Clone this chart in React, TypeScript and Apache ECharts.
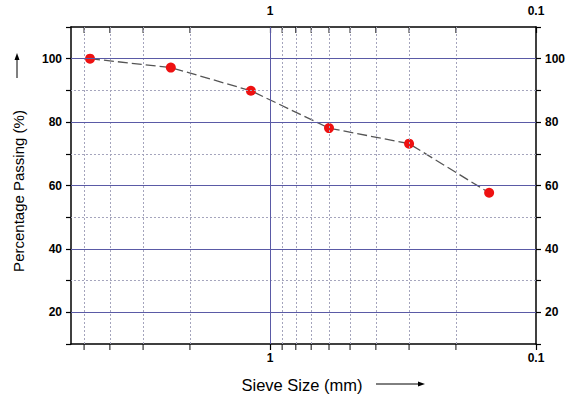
import React, { useEffect, useRef } from "react";
import * as echarts from "echarts";

const sieveSizes = [4.75, 2.36, 1.18, 0.6, 0.3, 0.15];
const percentPassing = [100, 97.2, 89.9, 78.1, 73.2, 57.7];
const yMajorGrid = [20, 40, 60, 80, 100];
const yMinorGrid = [30, 50, 70, 90];
const xMajorGrid = [1];
const xMinorGrid = [5, 4, 3, 2, 0.9, 0.8, 0.7, 0.6, 0.5, 0.4, 0.3, 0.2];
const xTickLabels = ["1", "0.1"];
const xTitle = "Sieve Size (mm)";
const yTitle = "Percentage Passing (%)";

const FONT = "Liberation Sans, Arial, sans-serif";

export default function App() {
  const ref = useRef<HTMLDivElement>(null);
  useEffect(() => {
    document.body.style.margin = "0";
    if (!ref.current) return;
    const chart = echarts.init(ref.current, null, { renderer: "svg" });

    const xFormatter = (v: number) => {
      for (const t of xTickLabels) {
        if (Math.abs(v - parseFloat(t)) < 1e-6) return t;
      }
      return "";
    };
    const yFormatter = (v: number) =>
      yMajorGrid.indexOf(v) >= 0 ? String(v) : "";

    const xAxisBase = (pos: "top" | "bottom") => ({
      type: "log",
      logBase: 10,
      min: 0.1,
      max: 5.6,
      inverse: true,
      position: pos,
      axisLine: { show: true, onZero: false, lineStyle: { color: "#000", width: 1.5 } },
      axisTick: { show: true, inside: pos === "top", length: 6, lineStyle: { color: "#000", width: 1.2 } },
      minorTick: { show: false },
      splitLine: { show: false },
      axisLabel: {
        formatter: xFormatter,
        showMaxLabel: false,
        color: "#000",
        fontWeight: "bold",
        fontSize: 12,
        fontFamily: FONT,
        margin: pos === "top" ? 10 : 8,
      },
    });

    const yAxisBase = (pos: "left" | "right") => ({
      type: "value",
      min: 10,
      max: 110,
      interval: 10,
      position: pos,
      axisLine: { show: true, lineStyle: { color: "#000", width: 1.5 } },
      axisTick: { show: true, length: 5, lineStyle: { color: "#000", width: 1.2 } },
      splitLine: { show: false },
      axisLabel: {
        formatter: yFormatter,
        color: "#000",
        fontWeight: "bold",
        fontSize: 12,
        fontFamily: FONT,
        margin: 9,
      },
    });

    const minorStyle = { type: [2, 2], color: "#a4a4bc", width: 1 };
    const majorStyle = { type: "solid", color: "#5a5aa6", width: 1.2 };

    const markData: any[] = [
      ...xMinorGrid.map((v) => ({ xAxis: v, lineStyle: minorStyle })),
      ...yMinorGrid.map((v) => ({ yAxis: v, lineStyle: minorStyle })),
      ...xMajorGrid.map((v) => ({ xAxis: v, lineStyle: { ...majorStyle, width: 1 } })),
      ...yMajorGrid.map((v) => ({ yAxis: v, lineStyle: majorStyle })),
    ];

    const tickData: number[][] = [];
    xMinorGrid.forEach((v) => {
      tickData.push([v, 110]);
      tickData.push([v, 10]);
    });

    chart.setOption({
      animation: false,
      backgroundColor: "#fff",
      grid: { left: 71, right: 32, top: 27, bottom: 52, containLabel: false },
      xAxis: [xAxisBase("bottom"), xAxisBase("top")],
      yAxis: [yAxisBase("left"), yAxisBase("right")],
      series: [
        {
          type: "scatter",
          xAxisIndex: 0,
          yAxisIndex: 0,
          data: tickData,
          symbol: "rect",
          symbolSize: [1.2, 6],
          symbolOffset: [0, 3],
          itemStyle: { color: "#000" },
          clip: false,
          silent: true,
          z: 1,
          markLine: {
            silent: true,
            symbol: "none",
            label: { show: false },
            data: markData,
          },
        },
        {
          type: "line",
          xAxisIndex: 0,
          yAxisIndex: 0,
          data: sieveSizes.map((s, i) => [s, percentPassing[i]]),
          symbol: "circle",
          symbolSize: 10,
          showSymbol: true,
          itemStyle: { color: "#ee1111" },
          lineStyle: { color: "#555", width: 1.3, type: [10, 4] },
          z: 3,
        },
      ],
      graphic: [
        {
          type: "text",
          x: 18,
          y: 191,
          rotation: Math.PI / 2,
          style: {
            text: yTitle,
            fill: "#000",
            font: `15px ${FONT}`,
            align: "center",
            verticalAlign: "middle",
          },
        },
        {
          type: "line",
          shape: { x1: 17, y1: 78, x2: 17, y2: 58 },
          style: { stroke: "#000", lineWidth: 1 },
        },
        {
          type: "polygon",
          shape: { points: [[14.5, 60], [19.5, 60], [17, 53]] },
          style: { fill: "#000" },
        },
        {
          type: "text",
          x: 302,
          y: 385,
          style: {
            text: xTitle,
            fill: "#000",
            font: `16.5px ${FONT}`,
            align: "center",
            verticalAlign: "middle",
          },
        },
        {
          type: "line",
          shape: { x1: 376, y1: 384, x2: 420, y2: 384 },
          style: { stroke: "#000", lineWidth: 1 },
        },
        {
          type: "polygon",
          shape: { points: [[418, 381.5], [418, 386.5], [425, 384]] },
          style: { fill: "#000" },
        },
      ],
    });
    return () => chart.dispose();
  }, []);
  return <div ref={ref} style={{ width: 568, height: 396 }} />;
}
